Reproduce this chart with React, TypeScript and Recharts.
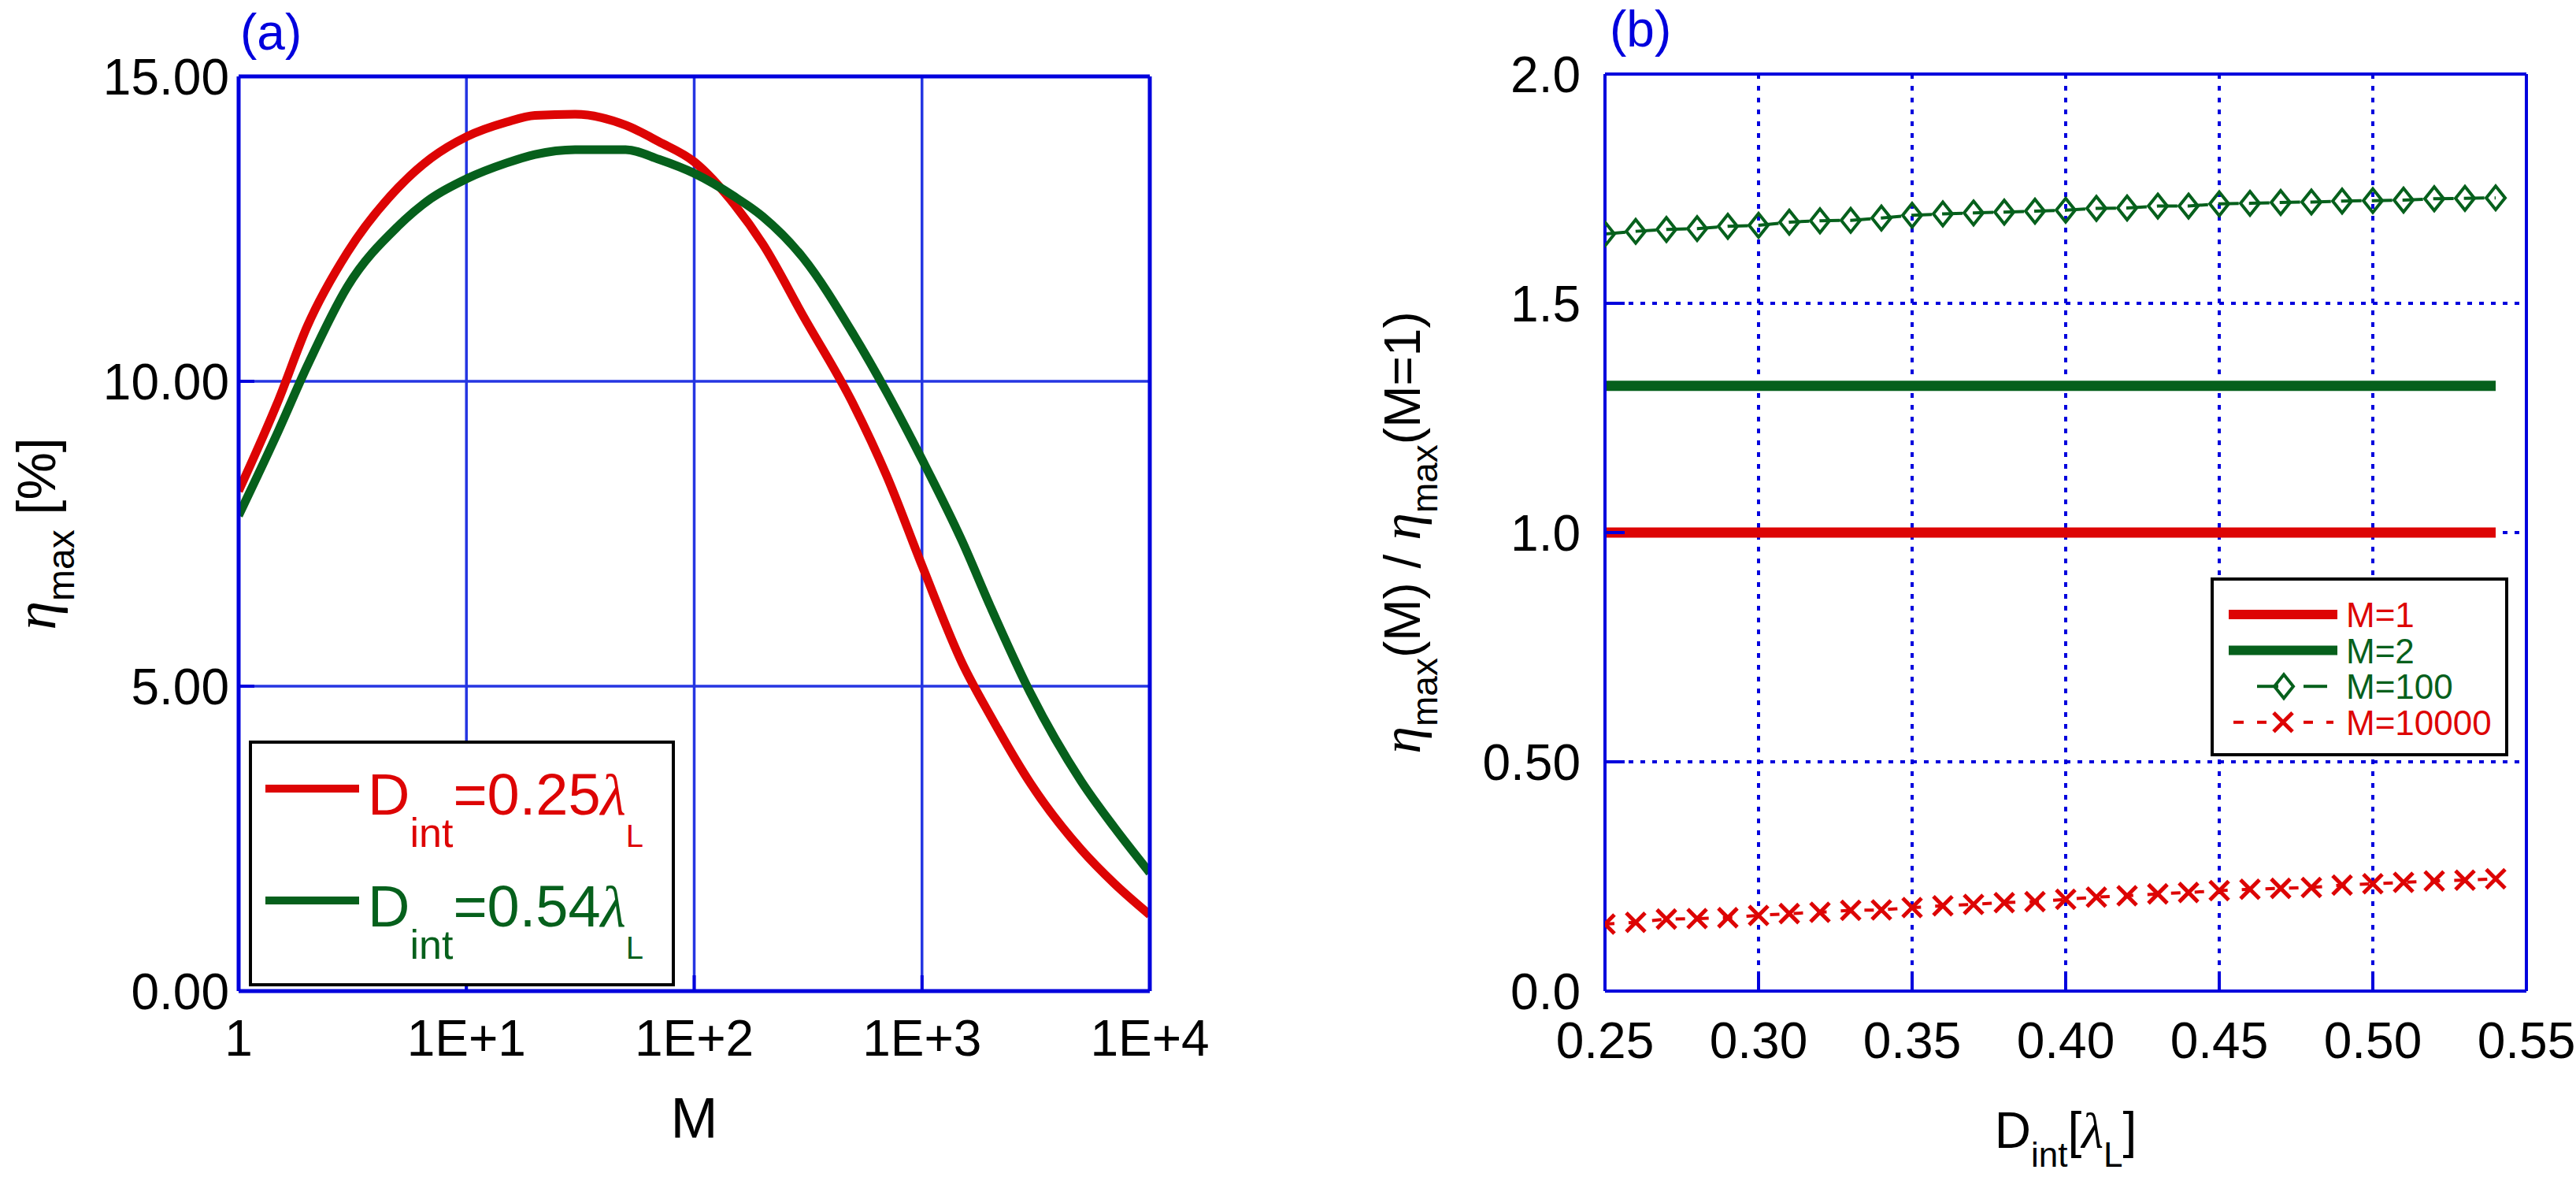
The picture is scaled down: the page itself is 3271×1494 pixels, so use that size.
import { CartesianGrid, Label, Legend, Line, LineChart, XAxis, YAxis } from "recharts";

const BLUE = "#0000dd";
const GRID_BLUE = "#2536e2";
const RED = "#dd0404";
const GREEN = "#06601c";
const FONT = "'Liberation Sans', Arial, Helvetica, sans-serif";
const SERIF = "'Liberation Serif', 'DejaVu Serif', serif";

// panel (a): eta_max vs M
const mValues = [1, 1.5, 2, 3, 5, 7, 10, 15, 20, 30, 50, 70, 100, 150, 200, 300, 500, 700, 1000, 1500, 2000, 3000, 5000, 7000, 10000];
const etaD025 = [8.2, 9.7, 10.9, 12.11, 13.17, 13.66, 14.01, 14.25, 14.36, 14.38, 14.2, 13.93, 13.6, 12.9, 12.25, 11.08, 9.62, 8.45, 6.98, 5.38, 4.51, 3.4, 2.32, 1.76, 1.25];
const etaD054 = [7.8, 9.2, 10.25, 11.55, 12.54, 13.0, 13.32, 13.58, 13.72, 13.8, 13.8, 13.64, 13.41, 13.03, 12.7, 12.03, 10.77, 9.82, 8.72, 7.38, 6.3, 4.88, 3.44, 2.68, 1.94];
const mTicks = [1, 10, 100, 1000, 10000];
const mTickLabels = ["1", "1E+1", "1E+2", "1E+3", "1E+4"];
const etaTicks = [0, 5, 10, 15];
const etaTickLabels = ["0.00", "5.00", "10.00", "15.00"];

// panel (b): ratio vs D_int
const dInt = [0.25, 0.26, 0.27, 0.28, 0.29, 0.3, 0.31, 0.32, 0.33, 0.34, 0.35, 0.36, 0.37, 0.38, 0.39, 0.4, 0.41, 0.42, 0.43, 0.44, 0.45, 0.46, 0.47, 0.48, 0.49, 0.5, 0.51, 0.52, 0.53, 0.54];
const ratioM1 = [1, 1, 1, 1, 1, 1, 1, 1, 1, 1, 1, 1, 1, 1, 1, 1, 1, 1, 1, 1, 1, 1, 1, 1, 1, 1, 1, 1, 1, 1];
const ratioM2 = [1.32, 1.32, 1.32, 1.32, 1.32, 1.32, 1.32, 1.32, 1.32, 1.32, 1.32, 1.32, 1.32, 1.32, 1.32, 1.32, 1.32, 1.32, 1.32, 1.32, 1.32, 1.32, 1.32, 1.32, 1.32, 1.32, 1.32, 1.32, 1.32, 1.32];
const ratioM100 = [1.651, 1.657, 1.661, 1.663, 1.668, 1.67, 1.677, 1.68, 1.681, 1.686, 1.692, 1.695, 1.697, 1.699, 1.701, 1.703, 1.707, 1.708, 1.712, 1.712, 1.717, 1.718, 1.72, 1.721, 1.723, 1.724, 1.725, 1.728, 1.729, 1.73];
const ratioM10000 = [0.146, 0.15, 0.157, 0.158, 0.16, 0.165, 0.169, 0.172, 0.176, 0.177, 0.182, 0.186, 0.189, 0.193, 0.195, 0.2, 0.205, 0.208, 0.212, 0.215, 0.219, 0.222, 0.224, 0.226, 0.231, 0.234, 0.237, 0.24, 0.242, 0.245];
const dTicks = [0.25, 0.3, 0.35, 0.4, 0.45, 0.5, 0.55];
const dTickLabels = ["0.25", "0.30", "0.35", "0.40", "0.45", "0.50", "0.55"];
const ratioTicks = [0, 0.5, 1, 1.5, 2];
const ratioTickLabels = ["0.0", "0.50", "1.0", "1.5", "2.0"];

const seriesA = [
  { key: "d025", label: "0.25", color: RED },
  { key: "d054", label: "0.54", color: GREEN },
];
const seriesB = [
  { key: "m1", label: "M=1", color: RED, kind: "solid" },
  { key: "m2", label: "M=2", color: GREEN, kind: "solid" },
  { key: "m100", label: "M=100", color: GREEN, kind: "diamond" },
  { key: "m10000", label: "M=10000", color: RED, kind: "cross" },
];

const dataA = mValues.map((m, i) => ({ m, d025: etaD025[i], d054: etaD054[i] }));
const dataB = dInt.map((d, i) => ({
  d,
  m1: ratioM1[i],
  m2: ratioM2[i],
  m100: ratioM100[i],
  m10000: ratioM10000[i],
}));

const tickFont = { fill: "#000", fontSize: 64, fontFamily: FONT };

function labelFrom(ticks: number[], labels: string[]) {
  return (v: number) => {
    const i = ticks.findIndex((t) => Math.abs(t - v) < 1e-9);
    return i >= 0 ? labels[i] : String(v);
  };
}

function diamondPath(cx: number, cy: number) {
  return `M${cx},${cy - 15} L${cx + 12},${cy} L${cx},${cy + 15} L${cx - 12},${cy} Z`;
}

function crossPath(cx: number, cy: number) {
  return `M${cx - 12},${cy - 12} L${cx + 12},${cy + 12} M${cx - 12},${cy + 12} L${cx + 12},${cy - 12}`;
}

const renderDiamond = (p: any) => (
  <path key={`dm-${p.index}`} d={diamondPath(p.cx, p.cy)} fill="none" stroke={GREEN} strokeWidth={4} />
);
const renderCross = (p: any) => (
  <path key={`cr-${p.index}`} d={crossPath(p.cx, p.cy)} fill="none" stroke={RED} strokeWidth={5} />
);

function LegendA() {
  return (
    <svg width={541} height={312} style={{ display: "block" }}>
      <rect x={2} y={2} width={537} height={308} fill="#fff" stroke="#000" strokeWidth={4} />
      {seriesA.map((s, i) => (
        <g key={s.key}>
          <line x1={21} x2={140} y1={61 + i * 142} y2={61 + i * 142} stroke={s.color} strokeWidth={10} />
          <text x={151} y={94 + i * 142} fontSize={74} fill={s.color} fontFamily={FONT}>
            D<tspan fontSize={52} dy={41}>int</tspan>
            <tspan dy={-41}>={s.label}</tspan>
            <tspan fontFamily={SERIF} fontStyle="italic">λ</tspan>
            <tspan fontSize={40} dy={41}>L</tspan>
          </text>
        </g>
      ))}
    </svg>
  );
}

function LegendB() {
  return (
    <svg width={378} height={227} style={{ display: "block" }}>
      <rect x={2} y={2} width={374} height={223} fill="#fff" stroke="#000" strokeWidth={4} />
      {seriesB.map((s, i) => {
        const y = 47 + i * 45.6;
        return (
          <g key={s.key}>
            {s.kind === "solid" && <line x1={23} x2={161} y1={y} y2={y} stroke={s.color} strokeWidth={12} />}
            {s.kind === "diamond" && (
              <g stroke={s.color} strokeWidth={4} fill="none">
                <line x1={59} x2={86} y1={y} y2={y} />
                <line x1={118} x2={148} y1={y} y2={y} />
                <path d={diamondPath(93, y)} />
              </g>
            )}
            {s.kind === "cross" && (
              <g stroke={s.color} strokeWidth={4} fill="none">
                <line x1={29} x2={42} y1={y} y2={y} />
                <line x1={59} x2={71} y1={y} y2={y} />
                <line x1={118} x2={130} y1={y} y2={y} />
                <line x1={147} x2={156} y1={y} y2={y} />
                <path d={crossPath(92, y)} strokeWidth={5} />
              </g>
            )}
            <text x={172} y={y + 16} fontSize={44} fill={s.color} fontFamily={FONT}>
              {s.label}
            </text>
          </g>
        );
      })}
    </svg>
  );
}

function PanelA() {
  return (
    <LineChart width={1580} height={1494} data={dataA} margin={{ top: 96, right: 119, bottom: 0, left: 0 }}>
      <CartesianGrid stroke={GRID_BLUE} strokeWidth={3.5} />
      <XAxis
        dataKey="m"
        type="number"
        scale="log"
        domain={[1, 10000]}
        allowDataOverflow
        ticks={mTicks}
        interval={0}
        tickFormatter={labelFrom(mTicks, mTickLabels)}
        height={236}
        axisLine={{ stroke: BLUE, strokeWidth: 5 }}
        tickLine={{ stroke: BLUE, strokeWidth: 4 }}
        tickSize={-20}
        tickMargin={57}
        tick={tickFont}
      >
        <Label
          content={(p: any) => (
            <text
              x={p.viewBox.x + p.viewBox.width / 2}
              y={p.viewBox.y + 186}
              textAnchor="middle"
              fontSize={72}
              fontFamily={FONT}
              fill="#000"
            >
              M
            </text>
          )}
        />
      </XAxis>
      <XAxis
        xAxisId="top"
        orientation="top"
        dataKey="m"
        type="number"
        scale="log"
        domain={[1, 10000]}
        allowDataOverflow
        ticks={mTicks}
        interval={0}
        height={1}
        tick={false}
        axisLine={{ stroke: BLUE, strokeWidth: 5 }}
        tickLine={{ stroke: BLUE, strokeWidth: 4 }}
        tickSize={-20}
      >
        <Label
          content={(p: any) => (
            <text x={p.viewBox.x + 2} y={63} fontSize={64} fontFamily={FONT} fill={BLUE}>
              (a)
            </text>
          )}
        />
      </XAxis>
      <YAxis
        type="number"
        domain={[0, 15]}
        allowDataOverflow
        ticks={etaTicks}
        interval={0}
        tickFormatter={labelFrom(etaTicks, etaTickLabels)}
        width={303}
        axisLine={{ stroke: BLUE, strokeWidth: 5 }}
        tickLine={{ stroke: BLUE, strokeWidth: 4 }}
        tickSize={-20}
        tickMargin={32}
        tick={tickFont}
      >
        <Label
          content={(p: any) => {
            const x = p.viewBox.x + 70;
            const y = p.viewBox.y + p.viewBox.height / 2;
            return (
              <text
                x={x}
                y={y}
                transform={`rotate(-90, ${x}, ${y})`}
                textAnchor="middle"
                fontSize={68}
                fontFamily={FONT}
                fill="#000"
              >
                <tspan fontFamily={SERIF} fontStyle="italic" fontSize={74}>η</tspan>
                <tspan fontSize={48} dy={24}>max</tspan>
                <tspan dy={-24}> [%]</tspan>
              </text>
            );
          }}
        />
      </YAxis>
      <YAxis
        yAxisId="right"
        orientation="right"
        type="number"
        domain={[0, 15]}
        allowDataOverflow
        ticks={etaTicks}
        interval={0}
        width={1}
        tick={false}
        axisLine={{ stroke: BLUE, strokeWidth: 5 }}
        tickLine={{ stroke: BLUE, strokeWidth: 4 }}
        tickSize={-20}
      />
      <Legend
        layout="horizontal"
        align="center"
        verticalAlign="middle"
        content={() => <LegendA />}
        wrapperStyle={{ position: "absolute", left: 316, top: 940, width: 541, height: 312 }}
      />
      {seriesA.map((s) => (
        <Line
          key={s.key}
          dataKey={s.key}
          type="monotone"
          stroke={s.color}
          strokeWidth={11}
          dot={false}
          isAnimationActive={false}
        />
      ))}
    </LineChart>
  );
}

function PanelB() {
  return (
    <LineChart width={1731} height={1494} data={dataB} margin={{ top: 93, right: 62, bottom: 0, left: 0 }}>
      <CartesianGrid stroke={BLUE} strokeWidth={4} strokeDasharray="6 9" />
      <XAxis
        dataKey="d"
        type="number"
        domain={[0.25, 0.55]}
        allowDataOverflow
        ticks={dTicks}
        interval={0}
        tickFormatter={labelFrom(dTicks, dTickLabels)}
        height={236}
        axisLine={{ stroke: BLUE, strokeWidth: 4 }}
        tickLine={{ stroke: BLUE, strokeWidth: 4 }}
        tickSize={-25}
        tickMargin={65}
        tick={tickFont}
      >
        <Label
          content={(p: any) => (
            <text
              x={p.viewBox.x + p.viewBox.width / 2}
              y={p.viewBox.y + 199}
              textAnchor="middle"
              fontSize={64}
              fontFamily={FONT}
              fill="#000"
            >
              D<tspan fontSize={44} dy={24}>int</tspan>
              <tspan dy={-24}>[</tspan>
              <tspan fontFamily={SERIF} fontStyle="italic">λ</tspan>
              <tspan fontSize={44} dy={24}>L</tspan>
              <tspan dy={-24}>]</tspan>
            </text>
          )}
        />
      </XAxis>
      <XAxis
        xAxisId="top"
        orientation="top"
        dataKey="d"
        type="number"
        domain={[0.25, 0.55]}
        allowDataOverflow
        ticks={dTicks}
        interval={0}
        height={1}
        tick={false}
        axisLine={{ stroke: BLUE, strokeWidth: 4 }}
        tickLine={{ stroke: BLUE, strokeWidth: 4 }}
        tickSize={-25}
      >
        <Label
          content={(p: any) => (
            <text x={p.viewBox.x + 6} y={59} fontSize={64} fontFamily={FONT} fill={BLUE}>
              (b)
            </text>
          )}
        />
      </XAxis>
      <YAxis
        type="number"
        domain={[0, 2]}
        allowDataOverflow
        ticks={ratioTicks}
        interval={0}
        tickFormatter={labelFrom(ratioTicks, ratioTickLabels)}
        width={498}
        axisLine={{ stroke: BLUE, strokeWidth: 4 }}
        tickLine={{ stroke: BLUE, strokeWidth: 4 }}
        tickSize={-25}
        tickMargin={56}
        tick={tickFont}
      >
        <Label
          content={(p: any) => {
            const x = p.viewBox.x + 263;
            const y = p.viewBox.y + p.viewBox.height / 2;
            return (
              <text
                x={x}
                y={y}
                transform={`rotate(-90, ${x}, ${y})`}
                textAnchor="middle"
                fontSize={64}
                fontFamily={FONT}
                fill="#000"
              >
                <tspan fontFamily={SERIF} fontStyle="italic" fontSize={70}>η</tspan>
                <tspan fontSize={46} dy={22}>max</tspan>
                <tspan dy={-22}>(M) / </tspan>
                <tspan fontFamily={SERIF} fontStyle="italic" fontSize={70}>η</tspan>
                <tspan fontSize={46} dy={22}>max</tspan>
                <tspan dy={-22}>(M=1)</tspan>
              </text>
            );
          }}
        />
      </YAxis>
      <YAxis
        yAxisId="right"
        orientation="right"
        type="number"
        domain={[0, 2]}
        allowDataOverflow
        ticks={ratioTicks}
        interval={0}
        width={1}
        tick={false}
        axisLine={{ stroke: BLUE, strokeWidth: 4 }}
        tickLine={{ stroke: BLUE, strokeWidth: 4 }}
        tickSize={-25}
      />
      <Legend
        layout="horizontal"
        align="center"
        verticalAlign="middle"
        content={() => <LegendB />}
        wrapperStyle={{ position: "absolute", left: 1267, top: 733, width: 378, height: 227 }}
      />
      <Line dataKey="m1" type="linear" stroke={RED} strokeWidth={13} dot={false} isAnimationActive={false} />
      <Line dataKey="m2" type="linear" stroke={GREEN} strokeWidth={13} dot={false} isAnimationActive={false} />
      <Line
        dataKey="m100"
        type="linear"
        stroke={GREEN}
        strokeWidth={4}
        strokeDasharray="26 13"
        dot={renderDiamond}
        isAnimationActive={false}
      />
      <Line
        dataKey="m10000"
        type="linear"
        stroke={RED}
        strokeWidth={4}
        strokeDasharray="12 18"
        dot={renderCross}
        isAnimationActive={false}
      />
    </LineChart>
  );
}

export default function App() {
  return (
    <div style={{ position: "absolute", left: 0, top: 0, width: 3271, height: 1494, background: "#fff" }}>
      <div style={{ position: "absolute", left: 0, top: 0 }}>
        <PanelA />
      </div>
      <div style={{ position: "absolute", left: 1540, top: 0 }}>
        <PanelB />
      </div>
    </div>
  );
}
